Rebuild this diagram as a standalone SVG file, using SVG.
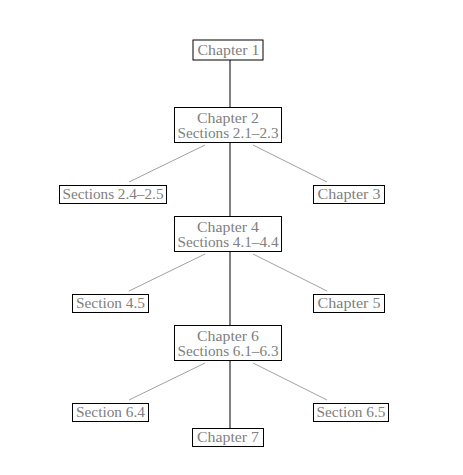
<svg xmlns="http://www.w3.org/2000/svg" width="463" height="475" viewBox="0 0 463 475">
<style>
.box{fill:#fff;stroke:#000;stroke-width:1}
.t{font-family:"Liberation Serif","DejaVu Serif",serif;font-size:15px;fill:#808080;text-anchor:middle}
.v{stroke:#000;stroke-width:1;fill:none}
.d{stroke:#888;stroke-width:0.8;fill:none}
</style>
<rect width="463" height="475" fill="#fff"/>
<g id="connectors">
<line class="v" x1="230" y1="60" x2="230" y2="107"/>
<line class="d" x1="205" y1="145" x2="129" y2="182"/>
<line class="v" x1="230" y1="143" x2="230" y2="216"/>
<line class="d" x1="253" y1="145" x2="327" y2="182"/>
<line class="d" x1="205" y1="254" x2="129" y2="291"/>
<line class="v" x1="230" y1="252" x2="230" y2="325"/>
<line class="d" x1="253" y1="254" x2="327" y2="291"/>
<line class="d" x1="205" y1="363" x2="129" y2="400"/>
<line class="v" x1="230" y1="361" x2="230" y2="428"/>
<line class="d" x1="253" y1="363" x2="327" y2="400"/>
</g>
<g id="ch1"><rect class="box" x="193" y="40" width="70" height="20"/><text class="t" x="228.5" y="55" textLength="62" lengthAdjust="spacingAndGlyphs">Chapter 1</text></g>
<g id="ch2"><rect class="box" x="174.5" y="107.5" width="107" height="35"/><text class="t" x="228" y="123" textLength="62" lengthAdjust="spacingAndGlyphs">Chapter 2</text><text class="t" x="228" y="138" textLength="101" lengthAdjust="spacingAndGlyphs">Sections 2.1–2.3</text></g>
<g id="s2425"><rect class="box" x="59.5" y="185.5" width="107" height="18"/><text class="t" x="113" y="199" textLength="101" lengthAdjust="spacingAndGlyphs">Sections 2.4–2.5</text></g>
<g id="ch3"><rect class="box" x="313.5" y="185.5" width="71" height="18"/><text class="t" x="349" y="199" textLength="63" lengthAdjust="spacingAndGlyphs">Chapter 3</text></g>
<g id="ch4"><rect class="box" x="174.5" y="216.5" width="107" height="35"/><text class="t" x="228" y="232" textLength="62" lengthAdjust="spacingAndGlyphs">Chapter 4</text><text class="t" x="228" y="247" textLength="101" lengthAdjust="spacingAndGlyphs">Sections 4.1–4.4</text></g>
<g id="s45"><rect class="box" x="72.5" y="294.5" width="76" height="18"/><text class="t" x="110.5" y="308" textLength="69" lengthAdjust="spacingAndGlyphs">Section 4.5</text></g>
<g id="ch5"><rect class="box" x="313.5" y="294.5" width="71" height="18"/><text class="t" x="349" y="308" textLength="63" lengthAdjust="spacingAndGlyphs">Chapter 5</text></g>
<g id="ch6"><rect class="box" x="174.5" y="325.5" width="107" height="35"/><text class="t" x="228" y="341" textLength="62" lengthAdjust="spacingAndGlyphs">Chapter 6</text><text class="t" x="228" y="356" textLength="101" lengthAdjust="spacingAndGlyphs">Sections 6.1–6.3</text></g>
<g id="s64"><rect class="box" x="72.5" y="403.5" width="76" height="18"/><text class="t" x="110.5" y="417" textLength="69" lengthAdjust="spacingAndGlyphs">Section 6.4</text></g>
<g id="s65"><rect class="box" x="313.5" y="403.5" width="75" height="18"/><text class="t" x="351" y="417" textLength="69" lengthAdjust="spacingAndGlyphs">Section 6.5</text></g>
<g id="ch7"><rect class="box" x="192.5" y="428.5" width="71" height="18"/><text class="t" x="228" y="442" textLength="62" lengthAdjust="spacingAndGlyphs">Chapter 7</text></g>
</svg>
